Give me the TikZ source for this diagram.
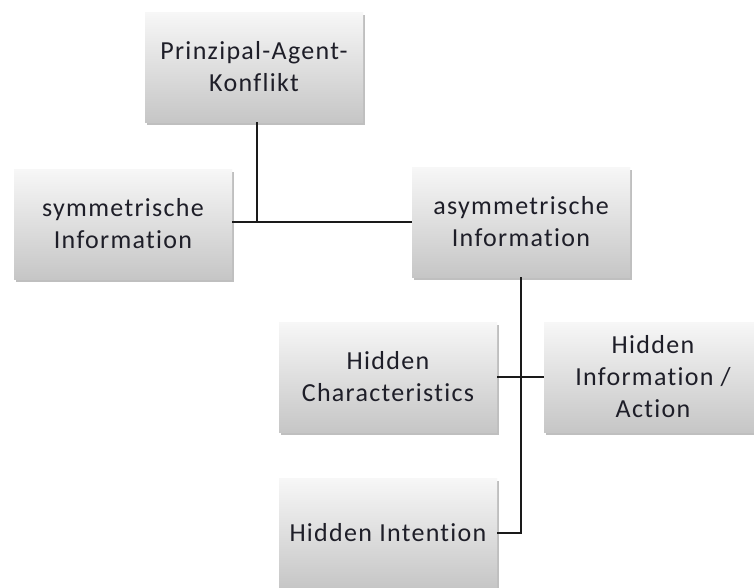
\documentclass[tikz,border=0pt]{standalone}
\usepackage{fontspec}
\setmainfont{Carlito}[LetterSpace=5,RawFeature={-liga;-clig;-dlig}]
\usetikzlibrary{shadows}
\definecolor{boxtop}{HTML}{F7F7F7}
\definecolor{boxbot}{HTML}{C6C6C6}
\definecolor{txt}{HTML}{1E1E28}
\definecolor{link}{HTML}{1A1A1A}
\begin{document}
\begin{tikzpicture}[x=1pt,y=-1pt,
  box/.style={rectangle, minimum width=218pt, minimum height=110pt,
    top color=boxtop, bottom color=boxbot, draw=none,
    text=txt, align=center, font=\fontsize{26}{32}\selectfont,
    drop shadow={shadow xshift=1.5pt, shadow yshift=-2.5pt, fill=black, opacity=0.25}},
  conn/.style={draw=link, line width=2.5pt}]
\useasboundingbox (0,0) rectangle (754,587);
\fill[white] (0,0) rectangle (754,587);

\node[box] (pa)   at (254,67)   {Prinzipal-Agent-\\Konflikt};
\node[box] (sym)  at (123,224)  {symmetrische\\Information};
\node[box] (asym) at (521,222)  {asymmetrische\\Information};
\node[box] (hc)   at (388,377)  {Hidden\\Characteristics};
\node[box] (hia)  at (653,377)  {Hidden\\Information /\\Action};
\node[box] (hint) at (388,533)  {Hidden Intention};

\coordinate (j) at ([xshift=3pt]pa.south |- asym.west);
\draw[conn] ([xshift=3pt]pa.south) -- (j);
\draw[conn] (sym.east |- j) -- (asym.west |- j);
\draw[conn] (hc.east) -- (hia.west);
\draw[conn] (asym.south) |- (hint.east);
\end{tikzpicture}
\end{document}
